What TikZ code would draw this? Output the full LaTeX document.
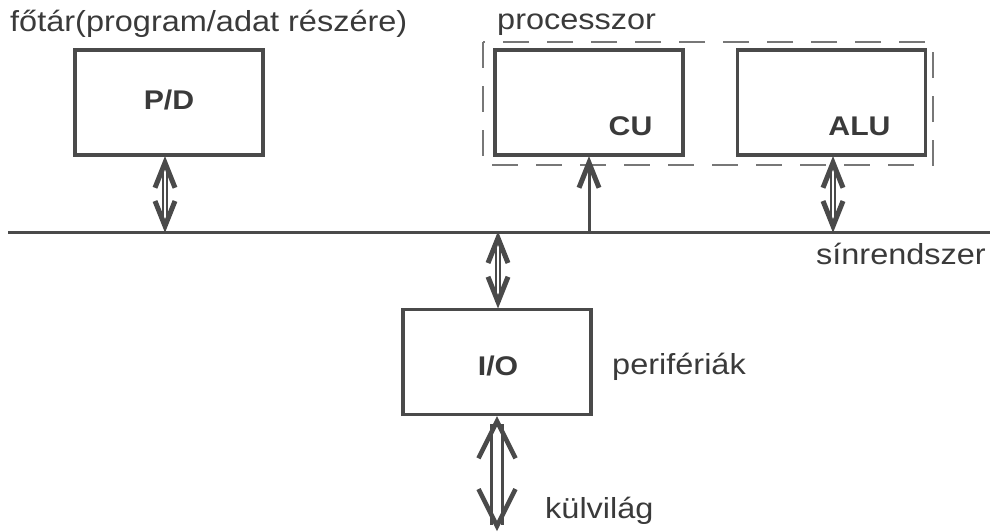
\documentclass[tikz,border=0pt]{standalone}
\usepackage{fontspec}
\setmainfont{Liberation Sans}[FakeStretch=1.12]
\usetikzlibrary{arrows.meta}
\definecolor{ln}{HTML}{4A4A4A}
\definecolor{tx}{HTML}{3A3A3A}
\tikzset{
  box/.style={draw=ln, line width=3.5pt, minimum width=188pt, minimum height=105pt, inner sep=0pt, fill=white},
  lbl/.style={text=tx, font=\fontsize{29}{34}\selectfont, inner sep=0pt},
  blbl/.style={text=tx, font=\fontsize{27}{32}\selectfont\bfseries, inner sep=0pt},
  busline/.style={draw=ln, line width=3pt},
  dshaft/.style={draw=ln, line width=2pt, double distance=2pt, shorten <=6pt, shorten >=6pt},
  bigshaft/.style={draw=ln, line width=3pt, double distance=8pt, shorten <=8pt, shorten >=6pt},
  sshaft/.style={draw=ln, line width=3pt, shorten >=6pt},
  headS/.pic={\draw[ln, line width=5pt, line join=miter, miter limit=4] (-10,31) -- (0,6) -- (10,31);},
  headB/.pic={\draw[ln, line width=4.5pt, line join=miter, miter limit=4] (-18.5,42) -- (0,5) -- (18.5,42);},
  procbox/.style={draw=ln!75, line width=1.4pt, dash pattern=on 26pt off 18pt},
}
\begin{document}
\begin{tikzpicture}[x=1pt,y=-1pt]
\useasboundingbox (0,0) rectangle (990,531);
% processor dashed frame
\draw[procbox] (483,42) rectangle (933,165);
% boxes
\node[box] (pd)  at (169,102.5) {};
\node[box] (cu)  at (589,102.5) {};
\node[box] (alu) at (831.5,102.5) {};
\node[box] (io)  at (497,362) {};
% box labels
\node[blbl] (pdl)  at (169,100) {P/D};
\node[blbl] (cul)  at (630.5,126.5) {CU};
\node[blbl] (alul) at (859.5,126.5) {ALU};
\node[blbl] (iol)  at (498,366) {I/O};
% texts
\node[lbl, anchor=base west] (t1) at (10,31) {főtár(program/adat részére)};
\node[lbl, anchor=base west] (t2) at (497,29) {processzor};
\node[lbl, anchor=base east] (t3) at (986,264) {sínrendszer};
\node[lbl, anchor=base west] (t4) at (612,374) {perifériák};
\node[lbl, anchor=base west] (t5) at (545,518) {külvilág};
% bus
\coordinate (busL) at (8,232);
\coordinate (busR) at (990,232);
\draw[busline] (busL) -- (busR);
% connectors
\coordinate (pdB) at (165,232);
\coordinate (cuB) at (589,232);
\coordinate (aluB) at (833,232);
\coordinate (ioB) at (498,232);
\coordinate (ext) at (497,531);
% P/D <-> bus
\draw[dshaft] (pdB |- pd.south) -- (pdB);
\pic at (pdB |- pd.south) {headS};
\pic[rotate=180] at (pdB) {headS};
% bus -> CU
\draw[sshaft] (cuB) -- (cuB |- cu.south);
\pic at (cuB |- cu.south) {headS};
% ALU <-> bus
\draw[dshaft] (aluB |- alu.south) -- (aluB);
\pic at (aluB |- alu.south) {headS};
\pic[rotate=180] at (aluB) {headS};
% bus <-> I/O
\draw[dshaft] (ioB) -- (ioB |- io.north);
\pic at (ioB) {headS};
\pic[rotate=180] at (ioB |- io.north) {headS};
% I/O <-> outside world
\draw[bigshaft] (ext |- io.south) -- (ext);
\pic at (ext |- io.south) {headB};
\pic[rotate=180] at (ext) {headB};
\end{tikzpicture}
\end{document}
